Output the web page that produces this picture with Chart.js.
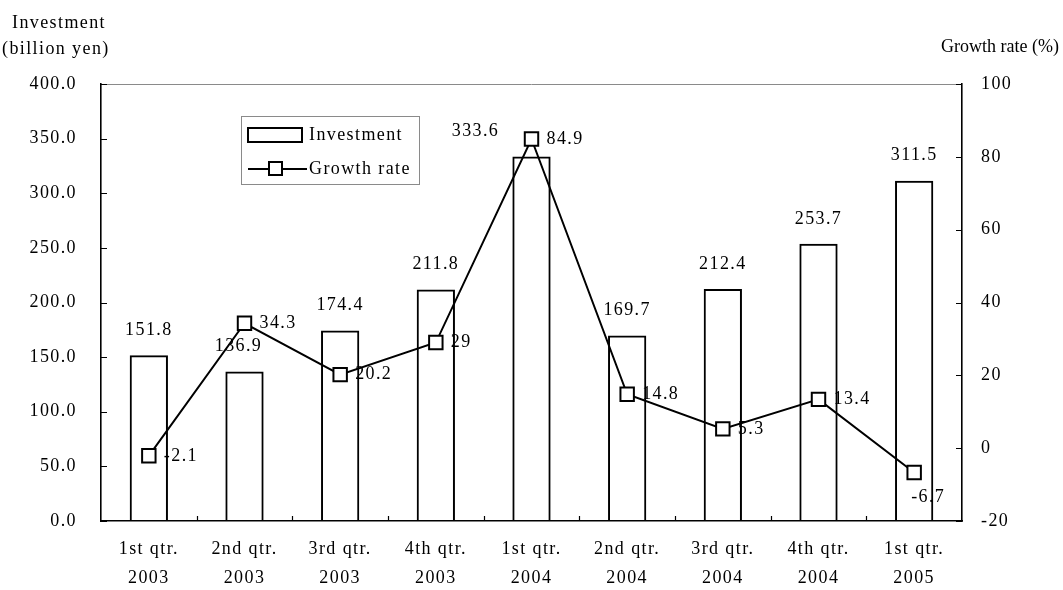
<!DOCTYPE html>
<html>
<head>
<meta charset="utf-8">
<title>Investment and growth rate</title>
<script src="https://cdn.jsdelivr.net/npm/chart.js@4.4.1/dist/chart.umd.min.js"></script>
<style>
  html, body { margin: 0; padding: 0; background: #ffffff; }
  canvas { display: block; }
</style>
</head>
<body>
<canvas id="chart" width="1063" height="590"></canvas>
<script>
// ---- data ----
const quarterNames = ['1st qtr.', '2nd qtr.', '3rd qtr.', '4th qtr.', '1st qtr.', '2nd qtr.', '3rd qtr.', '4th qtr.', '1st qtr.'];
const quarterYears = ['2003', '2003', '2003', '2003', '2004', '2004', '2004', '2004', '2005'];
const investment = [151.8, 136.9, 174.4, 211.8, 333.6, 169.7, 212.4, 253.7, 311.5];
const growthRate = [-2.1, 34.3, 20.2, 29, 84.9, 14.8, 5.3, 13.4, -6.7];
const investmentTicks = [0, 50, 100, 150, 200, 250, 300, 350, 400];
const growthTicks = [-20, 0, 20, 40, 60, 80, 100];

// ---- style ----
const FONT_FAMILY = '"Liberation Serif", "Times New Roman", serif';
const FONT_SIZE = 18;
const LETTER_SPACING = '1.4px';
const font = (size = FONT_SIZE) => `${size}px ${FONT_FAMILY}`;

// label nudges so value labels clear the line and its markers
const barLabelShift = { 1: -6, 4: -56 };
const growthLabelBelow = { 8: true };

const categories = quarterNames.map((q, i) => [q, quarterYears[i]]);

// wider glyph spacing for all canvas text
const spacingPlugin = {
  id: 'spacing',
  beforeLayout(chart) { chart.ctx.letterSpacing = LETTER_SPACING; },
  beforeDraw(chart) { chart.ctx.letterSpacing = LETTER_SPACING; }
};

// value labels sit under the bar outlines and the line
const valueLabelPlugin = {
  id: 'valueLabels',
  beforeDatasetsDraw(chart) {
    const ctx = chart.ctx;
    ctx.save();
    ctx.letterSpacing = LETTER_SPACING;
    ctx.fillStyle = '#000';
    ctx.font = font();
    ctx.textBaseline = 'middle';
    chart.getDatasetMeta(0).data.forEach((bar, i) => {
      ctx.textAlign = 'center';
      ctx.fillText(investment[i].toFixed(1), bar.x + (barLabelShift[i] || 0), bar.y - 25);
    });
    chart.getDatasetMeta(1).data.forEach((pt, i) => {
      ctx.textAlign = 'left';
      if (growthLabelBelow[i]) {
        ctx.fillText(String(growthRate[i]), pt.x - 3, pt.y + 25);
      } else {
        ctx.fillText(String(growthRate[i]), pt.x + 15, pt.y);
      }
    });
    ctx.restore();
  }
};

// plot frame, inward tick marks, axis titles and legend box
const framePlugin = {
  id: 'frame',
  afterDatasetsDraw(chart) {
    const ctx = chart.ctx;
    const a = chart.chartArea;
    const x = chart.scales.x, y = chart.scales.y, y1 = chart.scales.y1;
    ctx.save();
    ctx.letterSpacing = LETTER_SPACING;

    // top border of the plot area
    ctx.strokeStyle = '#8a8a8a';
    ctx.lineWidth = 1;
    ctx.beginPath();
    ctx.moveTo(a.left, a.top + 0.5);
    ctx.lineTo(a.right, a.top + 0.5);
    ctx.stroke();

    // inward tick marks
    ctx.strokeStyle = '#000';
    ctx.lineWidth = 1.2;
    ctx.beginPath();
    investmentTicks.forEach(v => {
      const py = Math.round(y.getPixelForValue(v)) + 0.5;
      ctx.moveTo(a.left, py); ctx.lineTo(a.left + 6, py);
    });
    growthTicks.forEach(v => {
      const py = Math.round(y1.getPixelForValue(v)) + 0.5;
      ctx.moveTo(a.right, py); ctx.lineTo(a.right - 6, py);
    });
    for (let i = 1; i < categories.length; i++) {
      const px = Math.round((x.getPixelForValue(i - 1) + x.getPixelForValue(i)) / 2) + 0.5;
      ctx.moveTo(px, a.bottom); ctx.lineTo(px, a.bottom - 5);
    }
    ctx.stroke();

    // axis titles
    ctx.fillStyle = '#000';
    ctx.font = font();
    ctx.textBaseline = 'middle';
    ctx.textAlign = 'left';
    ctx.fillText('Investment', 12, 23);
    ctx.fillText('(billion yen)', 2, 49);
    ctx.letterSpacing = '0px';
    ctx.textAlign = 'right';
    ctx.fillText('Growth rate (%)', 1059, 47);
    ctx.letterSpacing = LETTER_SPACING;

    // legend
    ctx.fillStyle = '#fff';
    ctx.fillRect(242, 116, 178, 68);
    ctx.strokeStyle = '#8a8a8a';
    ctx.lineWidth = 1;
    ctx.strokeRect(241.5, 116.5, 178, 68);

    ctx.strokeStyle = '#000';
    ctx.lineWidth = 2;
    ctx.fillStyle = '#fff';
    ctx.fillRect(248, 128, 54, 14);
    ctx.strokeRect(248, 128, 54, 14);

    ctx.beginPath();
    ctx.moveTo(248, 169); ctx.lineTo(307, 169);
    ctx.stroke();
    ctx.fillRect(269, 162, 13, 13);
    ctx.strokeRect(269, 162, 13, 13);

    ctx.fillStyle = '#000';
    ctx.textAlign = 'left';
    ctx.fillText('Investment', 309, 135);
    ctx.fillText('Growth rate', 309, 169);
    ctx.restore();
  }
};

new Chart(document.getElementById('chart'), {
  data: {
    labels: categories,
    datasets: [
      {
        type: 'bar',
        label: 'Investment',
        data: investment,
        yAxisID: 'y',
        backgroundColor: 'rgba(255,255,255,0)',
        borderColor: '#000000',
        borderWidth: 2,
        barPercentage: 0.4,
        categoryPercentage: 1.0,
        order: 2
      },
      {
        type: 'line',
        label: 'Growth rate',
        data: growthRate,
        yAxisID: 'y1',
        borderColor: '#000000',
        borderWidth: 2,
        tension: 0,
        pointStyle: 'rect',
        pointRadius: 9.5,
        pointBorderWidth: 2,
        pointBackgroundColor: '#ffffff',
        pointBorderColor: '#000000',
        order: 1
      }
    ]
  },
  options: {
    responsive: false,
    animation: false,
    events: [],
    layout: { padding: { top: 84, left: 0, right: 0, bottom: 0 } },
    plugins: {
      legend: { display: false },
      tooltip: { enabled: false },
      title: { display: false }
    },
    scales: {
      x: {
        type: 'category',
        offset: true,
        grid: { display: false, drawTicks: false },
        border: { display: true, color: '#000', width: 1.6 },
        ticks: {
          color: '#000',
          font: { family: FONT_FAMILY, size: FONT_SIZE, lineHeight: 1.65 },
          padding: 13,
          maxRotation: 0,
          autoSkip: false
        },
        afterFit(scale) { scale.height = 69; }
      },
      y: {
        position: 'left',
        min: investmentTicks[0],
        max: investmentTicks[investmentTicks.length - 1],
        grid: { display: false, drawTicks: false },
        border: { display: true, color: '#000', width: 1.6 },
        ticks: {
          stepSize: investmentTicks[1] - investmentTicks[0],
          color: '#000',
          font: { family: FONT_FAMILY, size: FONT_SIZE },
          padding: 24,
          callback: v => Number(v).toFixed(1)
        },
        afterFit(scale) { scale.width = 101; }
      },
      y1: {
        position: 'right',
        min: growthTicks[0],
        max: growthTicks[growthTicks.length - 1],
        grid: { display: false, drawTicks: false },
        border: { display: true, color: '#000', width: 1.6 },
        ticks: {
          stepSize: growthTicks[1] - growthTicks[0],
          color: '#000',
          font: { family: FONT_FAMILY, size: FONT_SIZE },
          padding: 19,
          callback: v => String(v)
        },
        afterFit(scale) { scale.width = 101; }
      }
    }
  },
  plugins: [spacingPlugin, valueLabelPlugin, framePlugin]
});
</script>
</body>
</html>
